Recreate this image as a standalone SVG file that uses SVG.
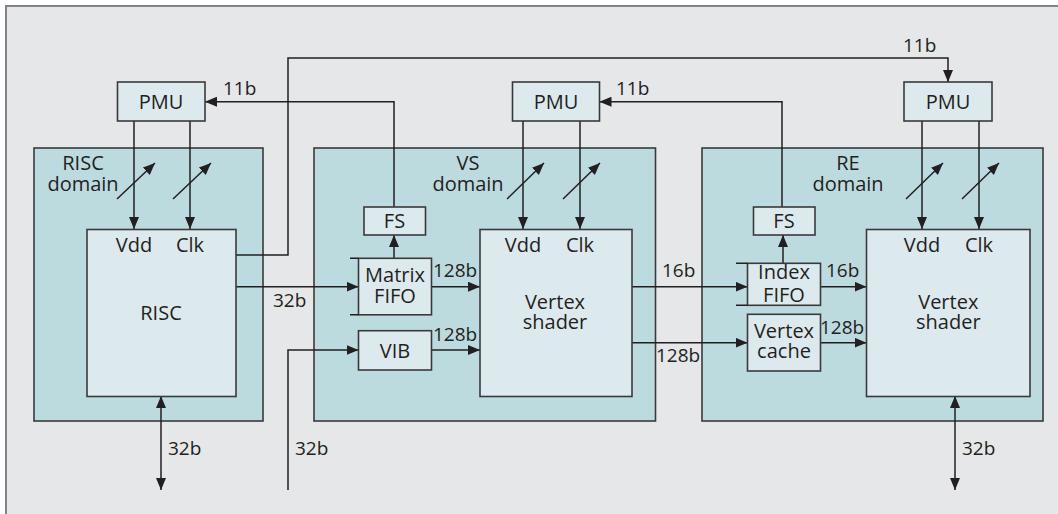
<svg xmlns="http://www.w3.org/2000/svg" width="1058" height="514" viewBox="0 0 1058 514">
<style>
text{font-family:"Open Sans","Liberation Sans",sans-serif;font-size:20px;fill:#231f20;text-anchor:middle}
.num{font-size:19px;text-anchor:start}
.dom{fill:#bcdbde;stroke:#3a3a3a;stroke-width:1.6}
.box{fill:#dceaed;stroke:#3a3a3a;stroke-width:1.6}
.ln{fill:none;stroke:#231f20;stroke-width:1.5}
.arr{marker-end:url(#ah)}
.bi{marker-start:url(#ah);marker-end:url(#ah)}
</style>
<defs>
<marker id="ah" markerUnits="userSpaceOnUse" markerWidth="12" markerHeight="10" refX="12" refY="5" orient="auto-start-reverse">
<path d="M0,0 L12,5 L0,10 z" fill="#231f20"/>
</marker>
</defs>
<rect x="0" y="0" width="1058" height="514" fill="#ffffff"/>
<rect x="6" y="6" width="1052" height="508" fill="#e6e7e8"/>
<path d="M6,514 V6 H1058" fill="none" stroke="#808285" stroke-width="2"/>

<g id="risc-domain"><rect class="dom" x="34" y="148" width="229" height="273"/><text x="83" y="170">RISC</text><text x="83" y="191">domain</text></g>
<g id="vs-domain"><rect class="dom" x="314" y="148" width="341.5" height="273"/><text x="468" y="170">VS</text><text x="468" y="191">domain</text></g>
<g id="re-domain"><rect class="dom" x="702" y="148" width="341" height="273"/><text x="848" y="170">RE</text><text x="848" y="191">domain</text></g>

<g id="connectors">
<path class="ln arr" d="M134,121 V229"/>
<path class="ln arr" d="M190,121 V229"/>
<path class="ln arr" d="M117,199 L155,163"/>
<path class="ln arr" d="M173,199 L211,163"/>
<path class="ln arr" d="M523,121 V229"/>
<path class="ln arr" d="M580,121 V229"/>
<path class="ln arr" d="M507,199 L544,163"/>
<path class="ln arr" d="M563,199 L600,163"/>
<path class="ln arr" d="M922,121 V229"/>
<path class="ln arr" d="M979,121 V229"/>
<path class="ln arr" d="M906,199 L943,163"/>
<path class="ln arr" d="M962,199 L999,163"/>
<path class="ln arr" d="M236,255 H288 V58 H948 V82"/>
<path class="ln arr" d="M394,207 V101.7 H205"/>
<path class="ln arr" d="M394,258 V235"/>
<path class="ln arr" d="M782,207 V101.7 H599.5"/>
<path class="ln arr" d="M783,263 V235"/>
<path class="ln arr" d="M236,286.7 H358.5"/>
<path class="ln arr" d="M288,490 V350 H358.5"/>
<path class="ln arr" d="M431,286.7 H480"/>
<path class="ln arr" d="M431,350 H480"/>
<path class="ln arr" d="M632,286.7 H747.5"/>
<path class="ln arr" d="M632,342.7 H747.5"/>
<path class="ln arr" d="M821,286.7 H866.5"/>
<path class="ln arr" d="M821,342.7 H866.5"/>
<path class="ln bi" d="M161,396 V490"/>
<path class="ln bi" d="M955,396 V490"/>
<text class="num" x="223" y="95">11b</text>
<text class="num" x="616" y="95">11b</text>
<text class="num" x="903" y="52">11b</text>
<text class="num" x="273" y="306.5">32b</text>
<text class="num" x="433" y="276.5">128b</text>
<text class="num" x="433" y="340.5">128b</text>
<text class="num" x="662" y="276.5">16b</text>
<text class="num" x="656" y="361.5">128b</text>
<text class="num" x="826" y="276.5">16b</text>
<text class="num" x="820" y="334">128b</text>
<text class="num" x="168" y="455">32b</text>
<text class="num" x="295" y="455">32b</text>
<text class="num" x="962" y="455">32b</text>
</g>

<g id="pmu1"><rect class="box" x="117.5" y="82" width="87.5" height="39"/><text x="161" y="108.5">PMU</text></g>
<g id="pmu2"><rect class="box" x="512.5" y="82" width="87" height="39"/><text x="556" y="108.5">PMU</text></g>
<g id="pmu3"><rect class="box" x="904" y="82" width="88" height="39"/><text x="948" y="108.5">PMU</text></g>
<g id="risc"><rect class="box" x="87" y="229.5" width="149" height="167"/><text x="134" y="252">Vdd</text><text x="190" y="252">Clk</text><text x="161" y="320">RISC</text></g>
<g id="fs1"><rect class="box" x="364" y="207" width="61.5" height="28"/><text x="394.5" y="228">FS</text></g>
<g id="matrix-fifo"><rect class="box" x="358.5" y="258.3" width="73" height="56.5"/><path class="ln" d="M350,258.3 H358.5 M350,314.8 H358.5"/><text x="395" y="281.5">Matrix</text><text x="395" y="303.3">FIFO</text></g>
<g id="vib"><rect class="box" x="358.5" y="330.7" width="73" height="39.3"/><text x="395" y="357.5">VIB</text></g>
<g id="vs-shader"><rect class="box" x="480" y="229.5" width="152" height="167"/><text x="523" y="252">Vdd</text><text x="580" y="252">Clk</text><text x="555" y="309.3">Vertex</text><text x="555" y="329.3">shader</text></g>
<g id="fs2"><rect class="box" x="753.5" y="207" width="61.5" height="28"/><text x="784" y="228">FS</text></g>
<g id="index-fifo"><rect class="box" x="747.5" y="263.3" width="73" height="42"/><path class="ln" d="M736,263.3 H747.5 M736,305.3 H747.5"/><text x="784" y="279.3">Index</text><text x="784" y="301.7">FIFO</text></g>
<g id="vertex-cache"><rect class="box" x="747.5" y="314.3" width="73" height="56.7"/><text x="784" y="338.3">Vertex</text><text x="784" y="358.3">cache</text></g>
<g id="re-shader"><rect class="box" x="866.5" y="229.5" width="163.5" height="167"/><text x="922" y="252">Vdd</text><text x="979" y="252">Clk</text><text x="948.3" y="309.3">Vertex</text><text x="948.3" y="329.3">shader</text></g>
</svg>
